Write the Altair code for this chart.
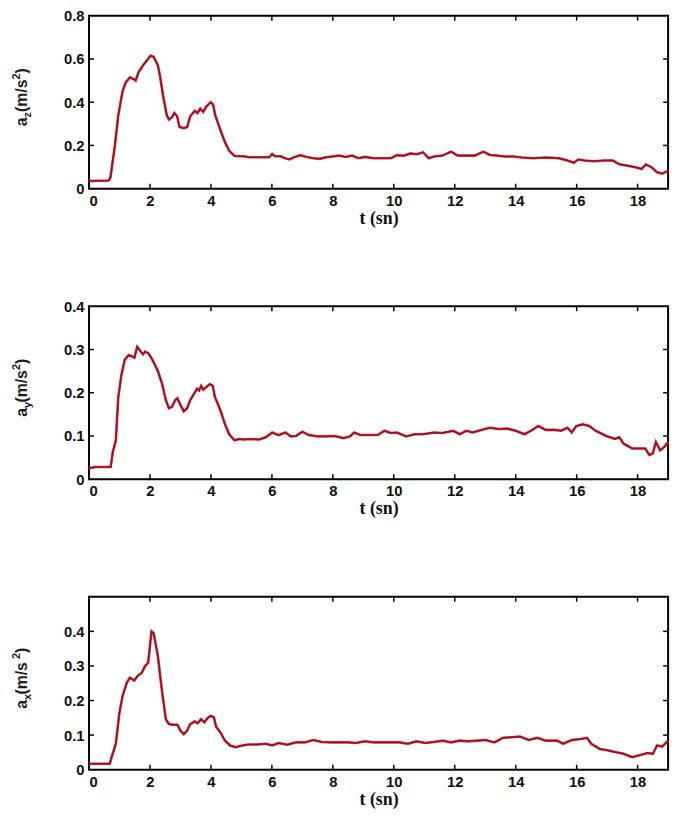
import altair as alt
import pandas as pd

# ---------------- data ----------------
t_z = [0, 0.3, 0.64, 0.7, 0.85, 0.96, 1.1, 1.2, 1.34, 1.49, 1.53, 1.63, 1.77, 1.91, 2.02, 2.12,
       2.26, 2.33, 2.43, 2.55, 2.62, 2.72, 2.8, 2.89, 2.97, 3.11, 3.22, 3.32, 3.47, 3.56, 3.65,
       3.75, 3.85, 3.99, 4.07, 4.14, 4.24, 4.34, 4.46, 4.6, 4.77, 4.92, 5.09, 5.23, 5.66, 5.91,
       6.01, 6.1, 6.29, 6.44, 6.58, 6.72, 6.93, 7.14, 7.36, 7.57, 7.78, 7.99, 8.2, 8.42, 8.63,
       8.84, 9.05, 9.34, 9.62, 9.9, 10.11, 10.33, 10.54, 10.75, 10.96, 11.15, 11.32, 11.6, 11.88,
       12.1, 12.38, 12.66, 12.94, 13.15, 13.37, 13.65, 13.93, 14.21, 14.57, 14.99, 15.42, 15.7,
       15.91, 16.05, 16.27, 16.55, 16.9, 17.19, 17.4, 17.68, 17.96, 18.13, 18.27, 18.45, 18.64,
       18.81, 19.0]
a_z = [0.035, 0.037, 0.038, 0.05, 0.2, 0.34, 0.45, 0.49, 0.515, 0.505, 0.50, 0.54, 0.57, 0.595,
       0.615, 0.61, 0.57, 0.52, 0.43, 0.34, 0.32, 0.33, 0.35, 0.335, 0.285, 0.28, 0.285, 0.335,
       0.36, 0.35, 0.37, 0.355, 0.38, 0.40, 0.39, 0.34, 0.30, 0.26, 0.215, 0.175, 0.152, 0.15,
       0.15, 0.145, 0.145, 0.145, 0.16, 0.15, 0.15, 0.14, 0.135, 0.145, 0.155, 0.147, 0.141, 0.138,
       0.145, 0.149, 0.153, 0.147, 0.153, 0.141, 0.147, 0.141, 0.141, 0.141, 0.155, 0.152, 0.163,
       0.159, 0.168, 0.141, 0.149, 0.153, 0.171, 0.153, 0.153, 0.153, 0.171, 0.156, 0.153, 0.149,
       0.149, 0.144, 0.141, 0.144, 0.141, 0.13, 0.12, 0.135, 0.13, 0.127, 0.13, 0.13, 0.113,
       0.106, 0.098, 0.091, 0.112, 0.1, 0.076, 0.07, 0.082]

t_y = [0, 0.2, 0.71, 0.78, 0.88, 0.96, 1.06, 1.17, 1.3, 1.41, 1.49, 1.58, 1.67, 1.77, 1.84, 1.95,
       2.05, 2.15, 2.26, 2.4, 2.52, 2.62, 2.73, 2.83, 2.9, 3.0, 3.11, 3.22, 3.32, 3.47, 3.54, 3.61,
       3.68, 3.75, 3.85, 3.96, 4.06, 4.13, 4.24, 4.36, 4.46, 4.6, 4.77, 4.92, 5.09, 5.3, 5.59, 5.8,
       6.01, 6.22, 6.44, 6.62, 6.79, 7.0, 7.21, 7.5, 7.78, 8.06, 8.35, 8.56, 8.7, 8.91, 9.19, 9.48,
       9.69, 9.9, 10.11, 10.4, 10.68, 10.96, 11.32, 11.6, 11.95, 12.16, 12.38, 12.59, 12.87, 13.15,
       13.44, 13.72, 14.0, 14.29, 14.5, 14.74, 14.99, 15.27, 15.49, 15.7, 15.84, 15.99, 16.2, 16.41,
       16.62, 16.97, 17.26, 17.4, 17.54, 17.82, 18.25, 18.39, 18.5, 18.6, 18.74, 18.88, 19.0]
a_y = [0.025, 0.028, 0.028, 0.063, 0.09, 0.19, 0.24, 0.276, 0.287, 0.284, 0.281, 0.306, 0.298,
       0.289, 0.295, 0.291, 0.28, 0.266, 0.25, 0.22, 0.183, 0.164, 0.168, 0.183, 0.187, 0.172,
       0.157, 0.164, 0.183, 0.2, 0.209, 0.205, 0.216, 0.207, 0.213, 0.22, 0.216, 0.19, 0.172,
       0.149, 0.127, 0.104, 0.09, 0.093, 0.092, 0.093, 0.092, 0.097, 0.108, 0.102, 0.108, 0.099,
       0.1, 0.11, 0.102, 0.099, 0.099, 0.1, 0.095, 0.099, 0.108, 0.102, 0.102, 0.102, 0.112, 0.107,
       0.108, 0.099, 0.104, 0.104, 0.108, 0.107, 0.112, 0.104, 0.112, 0.108, 0.114, 0.119, 0.116,
       0.117, 0.112, 0.104, 0.112, 0.123, 0.114, 0.114, 0.112, 0.119, 0.108, 0.123, 0.127, 0.123,
       0.112, 0.1, 0.093, 0.097, 0.082, 0.071, 0.071, 0.056, 0.06, 0.086, 0.067, 0.075, 0.086]

t_x = [0, 0.3, 0.68, 0.74, 0.88, 0.99, 1.1, 1.24, 1.34, 1.49, 1.58, 1.73, 1.84, 1.94, 2.05, 2.12,
       2.26, 2.38, 2.52, 2.62, 2.76, 2.9, 3.0, 3.11, 3.22, 3.32, 3.47, 3.56, 3.68, 3.78, 3.89, 3.99,
       4.1, 4.17, 4.31, 4.46, 4.63, 4.81, 5.02, 5.23, 5.52, 5.8, 6.01, 6.22, 6.51, 6.79, 7.07, 7.36,
       7.64, 7.92, 8.2, 8.49, 8.77, 9.05, 9.34, 9.62, 9.9, 10.18, 10.47, 10.75, 11.03, 11.32, 11.6,
       11.88, 12.16, 12.45, 12.73, 13.01, 13.3, 13.58, 13.86, 14.14, 14.43, 14.71, 14.99, 15.35,
       15.56, 15.84, 16.13, 16.34, 16.48, 16.76, 16.97, 17.26, 17.54, 17.82, 18.03, 18.32, 18.5,
       18.64, 18.81, 19.0]
a_x = [0.017, 0.017, 0.017, 0.036, 0.075, 0.16, 0.213, 0.252, 0.266, 0.258, 0.27, 0.28, 0.30,
       0.309, 0.40, 0.395, 0.328, 0.237, 0.146, 0.132, 0.13, 0.13, 0.113, 0.103, 0.113, 0.132,
       0.14, 0.134, 0.146, 0.137, 0.149, 0.156, 0.151, 0.124, 0.108, 0.084, 0.07, 0.065, 0.07,
       0.073, 0.073, 0.075, 0.07, 0.077, 0.072, 0.079, 0.079, 0.086, 0.08, 0.079, 0.079, 0.079,
       0.077, 0.082, 0.079, 0.079, 0.079, 0.079, 0.075, 0.082, 0.077, 0.08, 0.084, 0.079, 0.084,
       0.082, 0.084, 0.086, 0.079, 0.092, 0.094, 0.096, 0.086, 0.092, 0.084, 0.084, 0.075, 0.086,
       0.089, 0.092, 0.075, 0.06, 0.057, 0.051, 0.046, 0.036, 0.041, 0.048, 0.046, 0.07, 0.067,
       0.084]

x_ticks = [0, 2, 4, 6, 8, 10, 12, 14, 16, 18]
yticks_z = [0, 0.2, 0.4, 0.6, 0.8]
yticks_y = [0, 0.1, 0.2, 0.3, 0.4]
yticks_x = [0, 0.1, 0.2, 0.3, 0.4]
x_title = "t (sn)"

# ---------------- styling ----------------
W, H = 586, 175
SANS = "Liberation Sans"
SERIF = "Liberation Serif"
RED = "#ee2a1c"
DARK = "#8c1236"
one = pd.DataFrame({"k": [0]})


def title_piece(text, x, y, size):
    return alt.Chart(one).mark_text(
        text=text, angle=270, align="left", baseline="alphabetic",
        font=SANS, fontWeight="bold", fontSize=size, color="#1e1e1e"
    ).encode(x=alt.value(x), y=alt.value(y))


def y_title(sub, gap):
    # "a_sub (m/s^2)" built from pieces, reading bottom to top
    big, small = 16, 11
    bx = -63
    w_a = 0.556 * big
    w_sub = 0.5 * small
    w_mid = (0.333 + 0.889 + 0.278 + 0.556) * big + gap
    w_sup = 0.556 * small
    w_close = 0.333 * big
    total = w_a + w_sub + w_mid + w_sup + w_close
    y0 = H / 2 - 5 + total / 2
    layers = []
    layers.append(title_piece("a", bx, y0, big)); y0 -= w_a
    layers.append(title_piece(sub, bx + 4, y0, small)); y0 -= w_sub
    layers.append(title_piece((" " if gap else "") + "(m/s", bx, y0, big)); y0 -= w_mid
    layers.append(title_piece("2", bx - 7, y0, small)); y0 -= w_sup
    layers.append(title_piece(")", bx, y0, big))
    return layers


def panel(t, v, sub, ymax, yticks, gap=0):
    df = pd.DataFrame({"t": t, "v": v})
    xenc = alt.X("t:Q", scale=alt.Scale(domain=[0, 19], nice=False, zero=False),
                 axis=alt.Axis(values=x_ticks, title=x_title, format="d"))
    yenc = alt.Y("v:Q", scale=alt.Scale(domain=[0, ymax], nice=False),
                 axis=alt.Axis(values=yticks, title=None,
                               labelExpr="datum.value == 0 ? '0' : format(datum.value, '.1f')"))
    base = alt.Chart(df)
    red = base.mark_line(color=RED, strokeWidth=2.6).encode(x=xenc, y=yenc)
    dark = base.mark_line(color=DARK, strokeWidth=1.5).encode(x=xenc, y=yenc)

    inner_y = pd.DataFrame({"v": [y for y in yticks if 0 < y < ymax]})
    inner_x = pd.DataFrame({"t": [x for x in x_ticks if x > 0]})
    tick = dict(color="black", strokeWidth=1.5)
    lt = alt.Chart(inner_y).mark_rule(**tick).encode(
        y=yenc, x=alt.value(0), x2=alt.value(5))
    rt = alt.Chart(inner_y).mark_rule(**tick).encode(
        y=yenc, x=alt.value(W - 5), x2=alt.value(W))
    bt = alt.Chart(inner_x).mark_rule(**tick).encode(
        x=xenc, y=alt.value(H - 5), y2=alt.value(H))
    tt = alt.Chart(inner_x).mark_rule(**tick).encode(
        x=xenc, y=alt.value(0), y2=alt.value(5))

    return alt.layer(red, dark, lt, rt, bt, tt, *y_title(sub, gap)).properties(width=W, height=H)


p1 = panel(t_z, a_z, "z", 0.8, yticks_z)
p2 = panel(t_y, a_y, "y", 0.4, yticks_y)
p3 = panel(t_x, a_x, "x", 0.5, yticks_x, gap=3)

chart = alt.vconcat(p1, p2, p3, spacing=119, bounds="flush").properties(
    padding={"left": 1, "top": -5, "right": 0, "bottom": 0}
).configure_view(
    stroke="black", strokeWidth=2
).configure_axis(
    ticks=False, tickSize=0, domain=False, grid=False,
    labelFont=SANS, labelFontWeight="bold", labelFontSize=15, labelColor="#111",
    labelPadding=5,
    titleFont=SERIF, titleFontWeight="bold", titleFontSize=18, titleColor="#111",
    titlePadding=1,
)

chart.save("out.html", embed_options={"renderer": "svg", "actions": False})
